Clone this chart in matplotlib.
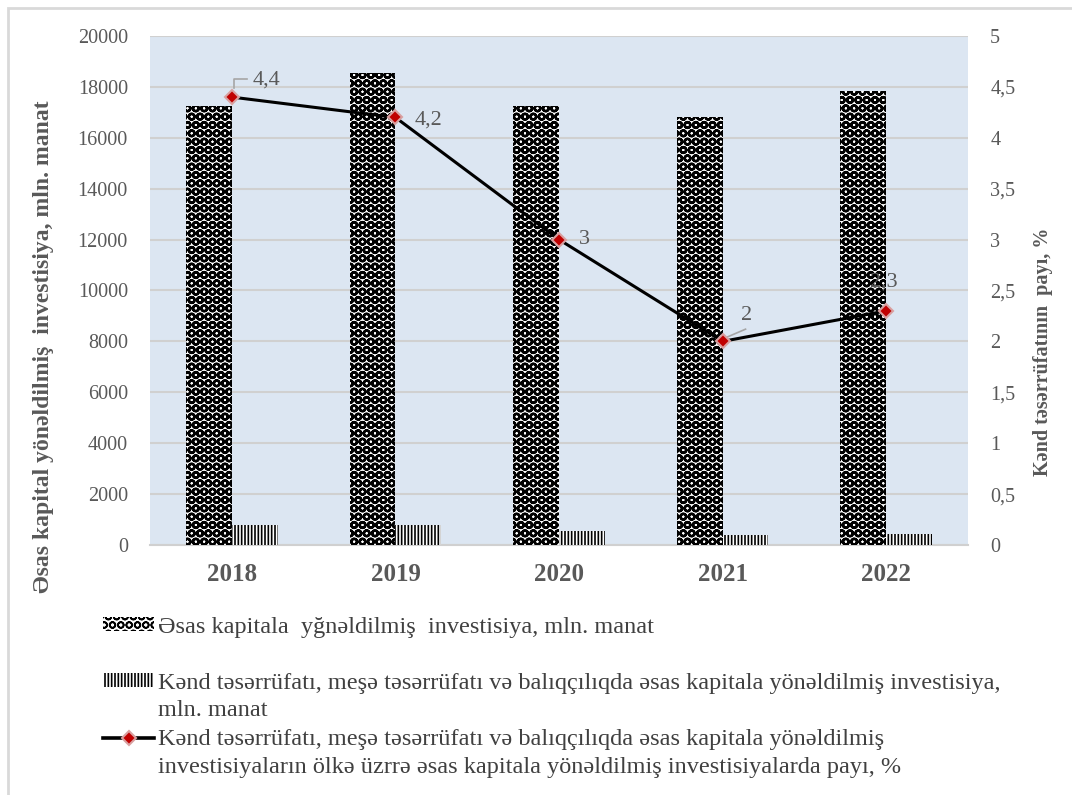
import matplotlib.pyplot as plt
import matplotlib.ticker as mticker
from matplotlib.lines import Line2D
from matplotlib.patches import Patch, Rectangle
import numpy as np

plt.rcParams['font.family'] = ['Liberation Serif', 'DejaVu Serif']
plt.rcParams['hatch.linewidth'] = 1.2

years = ['2018', '2019', '2020', '2021', '2022']
total_inv = [17250, 18550, 17250, 16800, 17850]
agri_inv = [780, 780, 560, 380, 420]
agri_share = [4.4, 4.2, 3.0, 2.0, 2.3]
share_labels = ['4,4', '4,2', '3', '2', '2,3']

lbl_total = ['Əsas kapitala  yğnəldilmiş  investisiya, mln. manat']
lbl_agri = ['Kənd təsərrüfatı, meşə təsərrüfatı və balıqçılıqda əsas kapitala yönəldilmiş investisiya,',
            'mln. manat']
lbl_share = ['Kənd təsərrüfatı, meşə təsərrüfatı və balıqçılıqda əsas kapitala yönəldilmiş',
             'investisiyaların ölkə üzrrə əsas kapitala yönəldilmiş investisiyalarda payı, %']

grey = '#595959'
txtc = '#404040'

fig = plt.figure(figsize=(10.72, 7.95), dpi=100)
# thin grey frame like the source (top + left edge)
fig.patches.append(Rectangle((8 / 1072, -0.02), 1.1, 1.02 - 8 / 795,
                             transform=fig.transFigure, fill=False,
                             edgecolor='#d9d9d9', linewidth=2, zorder=-1))

ax = fig.add_axes([0.14, 0.3145, 0.763, 0.6402])
ax.set_facecolor('#dce6f2')

x = np.arange(len(years))
w = 0.28
b1 = ax.bar(x - w / 2, total_inv, w, color='white', edgecolor='black', hatch='OO', linewidth=0, zorder=3)
b2 = ax.bar(x + w / 2, agri_inv, w, color='white', edgecolor='black', hatch='|||||', linewidth=0, zorder=3)
for p in b1:
    if hasattr(p, 'set_hatch_linewidth'):
        p.set_hatch_linewidth(1.75)

ax.set_xlim(-0.5, 4.5)
ax.set_ylim(0, 20000)
ax.set_yticks(range(0, 20001, 2000))
ax.yaxis.grid(True, color='#d0d0d0', linewidth=1.5, zorder=0)
ax.set_axisbelow(True)
ax.set_xticks(x)
ax.set_xticklabels(years, fontsize=18, fontweight='bold', color=grey)
ax.tick_params(axis='y', labelsize=14.5, labelcolor=grey, length=0, pad=16)
ax.tick_params(axis='x', length=0, pad=13)
for s in ['top', 'left', 'right']:
    ax.spines[s].set_visible(False)
ax.spines['bottom'].set_color('#d0d0d0')
ax.spines['bottom'].set_linewidth(1.5)
ax.set_ylabel('Əsas kapital yönəldilmiş  investisiya, mln. manat', fontsize=17,
              fontweight='bold', color=grey)
ax.yaxis.set_label_coords(-0.118, 0.39)

ax2 = ax.twinx()
ax2.plot(x, agri_share, color='black', linewidth=2.2, marker='D', markersize=7,
         markerfacecolor='#c00000', markeredgecolor='#d9a0a0', markeredgewidth=1.5, zorder=5)
ax2.set_ylim(0, 5)
ax2.set_yticks(np.arange(0, 5.01, 0.5))
ax2.yaxis.set_major_formatter(mticker.FuncFormatter(lambda v, p: ('%g' % v).replace('.', ',')))
ax2.tick_params(axis='y', labelsize=14.5, labelcolor=grey, length=0, pad=16)
for s in ['top', 'left', 'right', 'bottom']:
    ax2.spines[s].set_visible(False)
ax2.set_ylabel('Kənd təsərrüfatının  payı, %', fontsize=14.5, fontweight='bold', color=grey)
ax2.yaxis.set_label_coords(1.08, 0.38)

offsets = [(0.128, 0.167), (0.12, -0.03), (0.12, 0.0), (0.11, 0.255), (-0.1, 0.285)]
for i, (lab, (dx, dy)) in enumerate(zip(share_labels, offsets)):
    ax2.text(x[i] + dx, agri_share[i] + dy, lab, fontsize=16, color=grey, va='center', ha='left')
ax2.plot([x[0] + 0.012, x[0] + 0.012, x[0] + 0.092], [4.49, 4.577, 4.577], color='#a6a6a6', linewidth=1.2)
ax2.plot([x[3] + 0.024, x[3] + 0.14], [2.04, 2.12], color='#a6a6a6', linewidth=1.2)

handles = [Patch(facecolor='white', edgecolor='black', hatch='OO', linewidth=0),
           Patch(facecolor='white', edgecolor='black', hatch='|||||', linewidth=0),
           Line2D([0], [0], color='black', linewidth=2.6, marker='D', markersize=7,
                  markerfacecolor='#c00000', markeredgecolor='#d9a0a0', markeredgewidth=1.5)]
first_line_y = [627, 683, 740]
line_gap = 27
legs = []
for h, lines, yy in zip(handles, [lbl_total, lbl_agri, lbl_share], first_line_y):
    lg = fig.legend([h], [lines[0]], loc='center left', bbox_to_anchor=(103 / 1072, 1 - yy / 795),
                    frameon=False, fontsize=17.5, borderpad=0, borderaxespad=0,
                    handlelength=2.1, handleheight=0.5, handletextpad=0.15, labelcolor=txtc)
    legs.append((lg, lines))

fig.canvas.draw()
inv = fig.transFigure.inverted()
for (lg, lines), yy in zip(legs, first_line_y):
    t = lg.get_texts()[0]
    x0 = inv.transform(t.get_window_extent().p0)[0]
    for k, extra in enumerate(lines[1:], start=1):
        fig.text(x0, 1 - (yy + k * line_gap) / 795, extra, fontsize=17.5, color=txtc,
                 ha='left', va='center')

fig.savefig('out.png', dpi=100)
